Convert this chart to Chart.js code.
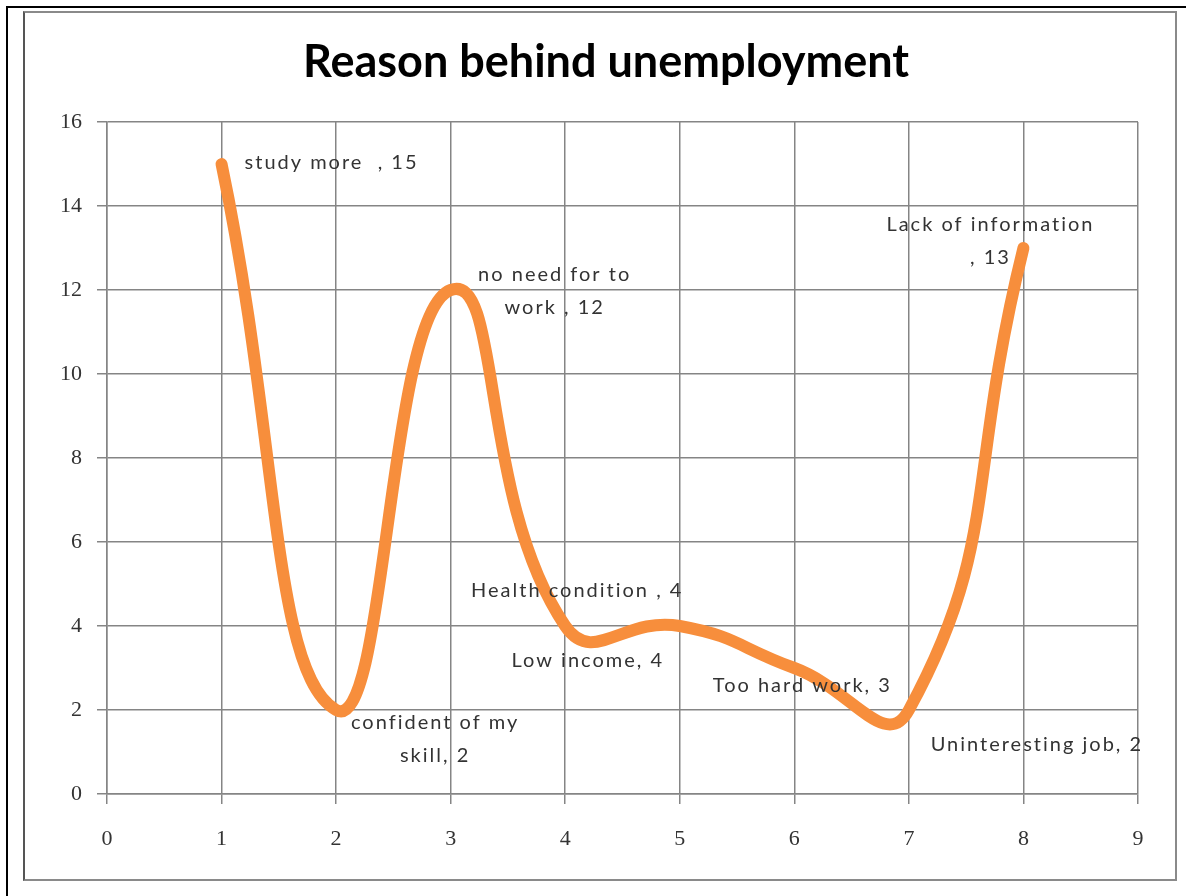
<!DOCTYPE html>
<html>
<head>
<meta charset="utf-8">
<script src="https://cdn.jsdelivr.net/npm/chart.js@4.4.1/dist/chart.umd.min.js"></script>
<style>
  html, body { margin: 0; padding: 0; background: #ffffff; }
  body { width: 1186px; height: 896px; position: relative; overflow: hidden; }
  #outerTop { position: absolute; left: 7px; top: 6px; width: 1179px; height: 0; border-top: 2px solid #000; }
  #outerLeft { position: absolute; left: 6px; top: 6px; width: 0; height: 890px; border-left: 2px solid #000; }
  #inner { position: absolute; left: 23px; top: 11px; width: 1150px; height: 866px; border: 2px solid #8a8a8a; border-left-color: #555; background: #fff; }
  #c { position: absolute; left: 0; top: 0; }
</style>
</head>
<body>
<div id="outerTop"></div>
<div id="outerLeft"></div>
<div id="inner"></div>
<canvas id="c" width="1186" height="896"></canvas>
<script>
// ---- data ----
const xValues = [1, 2, 3, 4, 5, 6, 7, 8];
const yValues = [15, 2, 12, 4, 4, 3, 2, 13];
const pointLabels = [
  ["study more  , 15"],
  ["confident of my", "skill, 2"],
  ["no need for to", "work , 12"],
  ["Health condition , 4"],
  ["Low income, 4"],
  ["Too hard work, 3"],
  ["Uninteresting job, 2"],
  ["Lack of information", ", 13"]
];
const yTicks = [0, 2, 4, 6, 8, 10, 12, 14, 16];
const xTicks = [0, 1, 2, 3, 4, 5, 6, 7, 8, 9];
const chartTitle = "Reason behind unemployment";

// label placement relative to each point (pixels): [dx, dy of first line, align]
const labelPlacement = [
  [23, -1, "left"],
  [99, 13, "center"],
  [104, -15, "center"],
  [12, -35, "center"],
  [-92, 35, "center"],
  [8, 18, "center"],
  [128, 35, "center"],
  [-33, -23, "center"]
];
const labelLineGap = 33;

const points = xValues.map((x, i) => ({ x: x, y: yValues[i] }));

const labelPlugin = {
  id: "pointLabels",
  afterDatasetsDraw(chart) {
    const meta = chart.getDatasetMeta(0);
    const ctx = chart.ctx;
    ctx.save();
    ctx.font = "20px Lato";
    ctx.letterSpacing = "2px";
    ctx.fillStyle = "#333333";
    ctx.textBaseline = "middle";
    meta.data.forEach((el, i) => {
      const p = labelPlacement[i];
      ctx.textAlign = p[2];
      pointLabels[i].forEach((line, j) => {
        ctx.fillText(line, el.x + p[0], el.y + p[1] + j * labelLineGap);
      });
    });
    ctx.restore();
  }
};

// shift the title box so it is centred like the reference (whole frame, not canvas)
const titleShift = {
  id: "titleShift",
  afterLayout(chart) {
    const t = chart.titleBlock;
    if (t) { t.left = 74; t.right = chart.chartArea.right; t.width = t.right - t.left; }
  }
};

const gridColor = "#858585";

new Chart(document.getElementById("c"), {
  type: "scatter",
  data: {
    datasets: [{
      data: points,
      showLine: true,
      borderColor: "#F78E3C",
      backgroundColor: "#F78E3C",
      borderWidth: 12,
      borderCapStyle: "round",
      borderJoinStyle: "round",
      tension: 0.5,
      pointRadius: 0,
      pointHoverRadius: 0
    }]
  },
  options: {
    responsive: false,
    animation: false,
    layout: { padding: { left: 0, right: 48, top: 0, bottom: 0 } },
    plugins: {
      legend: { display: false },
      tooltip: { enabled: false },
      title: {
        display: true,
        text: chartTitle,
        color: "#000",
        font: { family: "Lato", size: 45, weight: "bold", lineHeight: 1.2 },
        padding: { top: 35, bottom: 33 }
      }
    },
    scales: {
      x: {
        type: "linear",
        min: xTicks[0],
        max: xTicks[xTicks.length - 1],
        afterBuildTicks(s) { s.ticks = xTicks.map(v => ({ value: v })); },
        afterFit(s) { s.height = 102; },
        ticks: {
          color: "#333",
          font: { family: "Liberation Serif", size: 22 },
          padding: 22,
          maxRotation: 0
        },
        grid: { color: gridColor, lineWidth: 1.5, tickLength: 10, drawTicks: true },
        border: { color: gridColor, width: 1.5 }
      },
      y: {
        type: "linear",
        min: yTicks[0],
        max: yTicks[yTicks.length - 1],
        afterBuildTicks(s) { s.ticks = yTicks.map(v => ({ value: v })); },
        afterFit(s) { s.width = 107; },
        ticks: {
          color: "#333",
          font: { family: "Liberation Serif", size: 22 },
          padding: 15
        },
        grid: { color: gridColor, lineWidth: 1.5, tickLength: 10, drawTicks: true },
        border: { color: gridColor, width: 1.5 }
      }
    }
  },
  plugins: [labelPlugin, titleShift]
});
</script>
</body>
</html>
